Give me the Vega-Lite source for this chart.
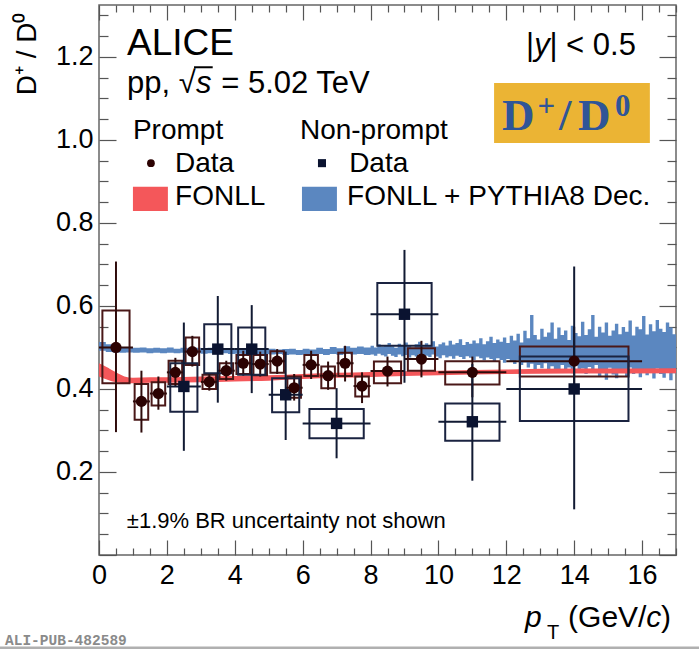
{
  "$schema": "https://vega.github.io/schema/vega-lite/v6.json",
  "width": 577,
  "height": 550,
  "autosize": {"type": "none"},
  "padding": {"left": 99, "top": 5, "right": 23, "bottom": 94},
  "background": "white",
  "config": {
    "view": {"stroke": "#666", "strokeWidth": 1.5},
    "text": {"font": "Liberation Sans", "color": "#000"}
  },
  "resolve": {"axis": {"x": "independent", "y": "independent"}},
  "layer": [
    {
      "data": {"values": [
        {"x":0.0,"lo":0.492,"hi":0.513},{"x":0.2,"lo":0.489,"hi":0.508},{"x":0.4,"lo":0.488,"hi":0.503},{"x":0.6,"lo":0.487,"hi":0.501},{"x":0.8,"lo":0.488,"hi":0.500},
        {"x":1.0,"lo":0.487,"hi":0.499},{"x":1.2,"lo":0.488,"hi":0.500},{"x":1.4,"lo":0.486,"hi":0.498},{"x":1.6,"lo":0.487,"hi":0.499},{"x":1.8,"lo":0.486,"hi":0.498},
        {"x":2.0,"lo":0.487,"hi":0.500},{"x":2.2,"lo":0.486,"hi":0.497},{"x":2.4,"lo":0.487,"hi":0.499},{"x":2.6,"lo":0.485,"hi":0.498},{"x":2.8,"lo":0.486,"hi":0.499},
        {"x":3.0,"lo":0.485,"hi":0.497},{"x":3.2,"lo":0.486,"hi":0.499},{"x":3.4,"lo":0.485,"hi":0.498},{"x":3.6,"lo":0.486,"hi":0.497},{"x":3.8,"lo":0.484,"hi":0.498},
        {"x":4.0,"lo":0.485,"hi":0.497},{"x":4.2,"lo":0.484,"hi":0.498},{"x":4.4,"lo":0.485,"hi":0.496},{"x":4.6,"lo":0.483,"hi":0.497},{"x":4.8,"lo":0.484,"hi":0.496},
        {"x":5.0,"lo":0.483,"hi":0.497},{"x":5.2,"lo":0.484,"hi":0.495},{"x":5.4,"lo":0.482,"hi":0.496},{"x":5.6,"lo":0.483,"hi":0.497},{"x":5.8,"lo":0.482,"hi":0.494},
        {"x":6.0,"lo":0.483,"hi":0.497},{"x":6.2,"lo":0.481,"hi":0.495},{"x":6.4,"lo":0.484,"hi":0.499},{"x":6.6,"lo":0.482,"hi":0.496},{"x":6.8,"lo":0.484,"hi":0.501},
        {"x":7.0,"lo":0.482,"hi":0.498},{"x":7.2,"lo":0.485,"hi":0.503},{"x":7.4,"lo":0.483,"hi":0.499},{"x":7.6,"lo":0.484,"hi":0.502},{"x":7.8,"lo":0.482,"hi":0.500},
        {"x":8.0,"lo":0.483,"hi":0.504},{"x":8.1,"lo":0.480,"hi":0.500},{"x":8.2,"lo":0.485,"hi":0.508},{"x":8.3,"lo":0.481,"hi":0.502},{"x":8.4,"lo":0.478,"hi":0.506},
        {"x":8.5,"lo":0.484,"hi":0.511},{"x":8.6,"lo":0.480,"hi":0.503},{"x":8.7,"lo":0.477,"hi":0.499},{"x":8.8,"lo":0.483,"hi":0.509},{"x":8.9,"lo":0.479,"hi":0.505},
        {"x":9.0,"lo":0.482,"hi":0.512},{"x":9.1,"lo":0.476,"hi":0.504},{"x":9.2,"lo":0.481,"hi":0.500},{"x":9.3,"lo":0.478,"hi":0.508},{"x":9.4,"lo":0.484,"hi":0.514},
        {"x":9.5,"lo":0.475,"hi":0.503},{"x":9.6,"lo":0.480,"hi":0.510},{"x":9.7,"lo":0.477,"hi":0.506},{"x":9.8,"lo":0.483,"hi":0.515},{"x":9.9,"lo":0.478,"hi":0.502},
        {"x":10.0,"lo":0.474,"hi":0.508},{"x":10.1,"lo":0.481,"hi":0.512},{"x":10.2,"lo":0.476,"hi":0.505},{"x":10.3,"lo":0.479,"hi":0.516},{"x":10.4,"lo":0.473,"hi":0.507},
        {"x":10.5,"lo":0.480,"hi":0.511},{"x":10.6,"lo":0.477,"hi":0.520},{"x":10.7,"lo":0.472,"hi":0.506},{"x":10.8,"lo":0.479,"hi":0.513},{"x":10.9,"lo":0.475,"hi":0.509},
        {"x":11.0,"lo":0.470,"hi":0.517},{"x":11.1,"lo":0.478,"hi":0.510},{"x":11.2,"lo":0.474,"hi":0.522},{"x":11.3,"lo":0.469,"hi":0.508},{"x":11.4,"lo":0.476,"hi":0.515},
        {"x":11.5,"lo":0.472,"hi":0.526},{"x":11.6,"lo":0.466,"hi":0.511},{"x":11.7,"lo":0.474,"hi":0.519},{"x":11.8,"lo":0.470,"hi":0.514},{"x":11.9,"lo":0.463,"hi":0.524},
        {"x":12.0,"lo":0.472,"hi":0.511},{"x":12.1,"lo":0.466,"hi":0.528},{"x":12.2,"lo":0.460,"hi":0.517},{"x":12.3,"lo":0.469,"hi":0.533},{"x":12.4,"lo":0.458,"hi":0.512},
        {"x":12.5,"lo":0.464,"hi":0.540},{"x":12.6,"lo":0.452,"hi":0.522},{"x":12.7,"lo":0.461,"hi":0.578},{"x":12.8,"lo":0.446,"hi":0.530},{"x":12.9,"lo":0.458,"hi":0.519},
        {"x":13.0,"lo":0.450,"hi":0.545},{"x":13.1,"lo":0.462,"hi":0.526},{"x":13.2,"lo":0.444,"hi":0.536},{"x":13.3,"lo":0.455,"hi":0.560},{"x":13.4,"lo":0.448,"hi":0.521},
        {"x":13.5,"lo":0.440,"hi":0.548},{"x":13.6,"lo":0.458,"hi":0.530},{"x":13.7,"lo":0.446,"hi":0.541},{"x":13.8,"lo":0.452,"hi":0.518},{"x":13.9,"lo":0.438,"hi":0.552},
        {"x":14.0,"lo":0.456,"hi":0.535},{"x":14.1,"lo":0.444,"hi":0.527},{"x":14.2,"lo":0.449,"hi":0.562},{"x":14.3,"lo":0.436,"hi":0.530},{"x":14.4,"lo":0.453,"hi":0.544},
        {"x":14.5,"lo":0.441,"hi":0.578},{"x":14.6,"lo":0.458,"hi":0.526},{"x":14.7,"lo":0.430,"hi":0.550},{"x":14.8,"lo":0.447,"hi":0.536},{"x":14.9,"lo":0.422,"hi":0.560},
        {"x":15.0,"lo":0.451,"hi":0.528},{"x":15.1,"lo":0.435,"hi":0.541},{"x":15.2,"lo":0.426,"hi":0.557},{"x":15.3,"lo":0.448,"hi":0.532},{"x":15.4,"lo":0.440,"hi":0.549},
        {"x":15.5,"lo":0.430,"hi":0.538},{"x":15.6,"lo":0.452,"hi":0.565},{"x":15.7,"lo":0.436,"hi":0.529},{"x":15.8,"lo":0.445,"hi":0.550},{"x":15.9,"lo":0.428,"hi":0.544},
        {"x":16.0,"lo":0.446,"hi":0.576},{"x":16.1,"lo":0.433,"hi":0.531},{"x":16.2,"lo":0.441,"hi":0.556},{"x":16.3,"lo":0.425,"hi":0.539},{"x":16.4,"lo":0.449,"hi":0.566},
        {"x":16.5,"lo":0.436,"hi":0.545},{"x":16.6,"lo":0.427,"hi":0.537},{"x":16.7,"lo":0.444,"hi":0.560},{"x":16.8,"lo":0.421,"hi":0.548},{"x":16.9,"lo":0.438,"hi":0.532},
        {"x":17.0,"lo":0.438,"hi":0.532}
      ]},
      "mark": {"type": "area", "interpolate": "step-after", "color": "#5b87c0", "clip": true},
      "encoding": {
        "x": {"field": "x", "type": "quantitative", "scale": {"domain": [0, 17], "nice": false, "zero": false},
          "axis": {"orient": "bottom", "values": [0,0.5,1,1.5,2,2.5,3,3.5,4,4.5,5,5.5,6,6.5,7,7.5,8,8.5,9,9.5,10,10.5,11,11.5,12,12.5,13,13.5,14,14.5,15,15.5,16,16.5,17],
            "domain": false, "grid": false, "tickColor": "#555", "tickWidth": 1.2,
            "tickSize": {"condition": {"test": "round(datum.value*2) % 4 == 0", "value": -15}, "value": -7},
            "labelExpr": "round(datum.value*2) % 4 == 0 && datum.value < 16.5 ? format(datum.value, 'd') : ''",
            "labelFont": "Liberation Sans", "labelFontSize": 27, "labelColor": "#000", "labelPadding": 22,
            "labelFlush": false, "labelOverlap": false, "title": null}},
        "y": {"field": "lo", "type": "quantitative", "scale": {"domain": [0, 1.325], "nice": false, "zero": false},
          "axis": {"orient": "left", "values": [0,0.05,0.1,0.15,0.2,0.25,0.3,0.35,0.4,0.45,0.5,0.55,0.6,0.65,0.7,0.75,0.8,0.85,0.9,0.95,1.0,1.05,1.1,1.15,1.2,1.25,1.3],
            "domain": false, "grid": false, "tickColor": "#555", "tickWidth": 1.2,
            "tickSize": {"condition": {"test": "round(datum.value*20) % 4 == 0", "value": -17}, "value": -9},
            "labelExpr": "round(datum.value*20) % 4 == 0 && datum.value > 0.01 ? format(datum.value, '.1f') : ''",
            "labelFont": "Liberation Sans", "labelFontSize": 27, "labelColor": "#000", "labelPadding": 23,
            "labelFlush": false, "labelOverlap": false,
            "title": "D⁺ / D⁰", "titleFont": "Liberation Sans", "titleFontSize": 28, "titleFontWeight": "normal", "titleColor": "#000",
            "titleAngle": 270, "titleAlign": "right", "titleBaseline": "middle", "titleX": -72, "titleY": 7}},
        "y2": {"field": "hi"}
      }
    },
    {
      "data": {"values": [
        {"x":0,"lo":0.430,"hi":0.462},{"x":0.25,"lo":0.422,"hi":0.452},{"x":0.5,"lo":0.416,"hi":0.440},{"x":0.75,"lo":0.414,"hi":0.430},
        {"x":1,"lo":0.414,"hi":0.427},{"x":1.5,"lo":0.415,"hi":0.428},{"x":2,"lo":0.415,"hi":0.428},{"x":3,"lo":0.416,"hi":0.430},
        {"x":4,"lo":0.418,"hi":0.431},{"x":5,"lo":0.420,"hi":0.433},{"x":6,"lo":0.424,"hi":0.436},{"x":7,"lo":0.427,"hi":0.439},
        {"x":8,"lo":0.429,"hi":0.441},{"x":10,"lo":0.433,"hi":0.444},{"x":12,"lo":0.436,"hi":0.447},{"x":14,"lo":0.437,"hi":0.449},
        {"x":17,"lo":0.438,"hi":0.450}
      ]},
      "mark": {"type": "area", "interpolate": "monotone", "color": "#f4575a", "clip": true},
      "encoding": {
        "x": {"field": "x", "type": "quantitative", "scale": {"domain": [0, 17], "nice": false, "zero": false},
          "axis": {"orient": "top", "values": [0,0.5,1,1.5,2,2.5,3,3.5,4,4.5,5,5.5,6,6.5,7,7.5,8,8.5,9,9.5,10,10.5,11,11.5,12,12.5,13,13.5,14,14.5,15,15.5,16,16.5,17],
            "domain": false, "grid": false, "labels": false, "tickColor": "#555", "tickWidth": 1.2,
            "tickSize": {"condition": {"test": "round(datum.value*2) % 4 == 0", "value": -15}, "value": -7}, "title": null}},
        "y": {"field": "lo", "type": "quantitative", "scale": {"domain": [0, 1.325], "nice": false, "zero": false},
          "axis": {"orient": "right", "values": [0,0.05,0.1,0.15,0.2,0.25,0.3,0.35,0.4,0.45,0.5,0.55,0.6,0.65,0.7,0.75,0.8,0.85,0.9,0.95,1.0,1.05,1.1,1.15,1.2,1.25,1.3],
            "domain": false, "grid": false, "labels": false, "tickColor": "#555", "tickWidth": 1.2,
            "tickSize": {"condition": {"test": "round(datum.value*20) % 4 == 0", "value": -17}, "value": -9}, "title": null}},
        "y2": {"field": "hi"}
      }
    },
    {
      "data": {"name": "prompt", "values": [
        {"x":0.5,"xlo":0,"xhi":1,"bx1":0.1,"bx2":0.9,"y":0.500,"ylo":0.296,"yhi":0.707,"sylo":0.414,"syhi":0.589},
        {"x":1.25,"xlo":1,"xhi":1.5,"bx1":1.05,"bx2":1.45,"y":0.370,"ylo":0.295,"yhi":0.444,"sylo":0.326,"syhi":0.412},
        {"x":1.75,"xlo":1.5,"xhi":2,"bx1":1.55,"bx2":1.95,"y":0.389,"ylo":0.350,"yhi":0.430,"sylo":0.360,"syhi":0.416},
        {"x":2.25,"xlo":2,"xhi":2.5,"bx1":2.05,"bx2":2.45,"y":0.440,"ylo":0.405,"yhi":0.475,"sylo":0.412,"syhi":0.468},
        {"x":2.75,"xlo":2.5,"xhi":3,"bx1":2.55,"bx2":2.95,"y":0.490,"ylo":0.454,"yhi":0.528,"sylo":0.458,"syhi":0.524},
        {"x":3.25,"xlo":3,"xhi":3.5,"bx1":3.05,"bx2":3.45,"y":0.417,"ylo":0.396,"yhi":0.438,"sylo":0.400,"syhi":0.434},
        {"x":3.75,"xlo":3.5,"xhi":4,"bx1":3.55,"bx2":3.95,"y":0.444,"ylo":0.420,"yhi":0.468,"sylo":0.424,"syhi":0.462},
        {"x":4.25,"xlo":4,"xhi":4.5,"bx1":4.05,"bx2":4.45,"y":0.462,"ylo":0.432,"yhi":0.492,"sylo":0.436,"syhi":0.482},
        {"x":4.75,"xlo":4.5,"xhi":5,"bx1":4.55,"bx2":4.95,"y":0.460,"ylo":0.430,"yhi":0.490,"sylo":0.433,"syhi":0.482},
        {"x":5.25,"xlo":5,"xhi":5.5,"bx1":5.05,"bx2":5.45,"y":0.467,"ylo":0.436,"yhi":0.496,"sylo":0.439,"syhi":0.491},
        {"x":5.75,"xlo":5.5,"xhi":6,"bx1":5.55,"bx2":5.95,"y":0.403,"ylo":0.372,"yhi":0.436,"sylo":0.379,"syhi":0.430},
        {"x":6.25,"xlo":6,"xhi":6.5,"bx1":6.05,"bx2":6.45,"y":0.458,"ylo":0.424,"yhi":0.492,"sylo":0.431,"syhi":0.482},
        {"x":6.75,"xlo":6.5,"xhi":7,"bx1":6.55,"bx2":6.95,"y":0.432,"ylo":0.398,"yhi":0.466,"sylo":0.402,"syhi":0.454},
        {"x":7.25,"xlo":7,"xhi":7.5,"bx1":7.05,"bx2":7.45,"y":0.462,"ylo":0.418,"yhi":0.504,"sylo":0.431,"syhi":0.487},
        {"x":7.75,"xlo":7.5,"xhi":8,"bx1":7.55,"bx2":7.95,"y":0.407,"ylo":0.366,"yhi":0.440,"sylo":0.382,"syhi":0.430},
        {"x":8.5,"xlo":8,"xhi":9,"bx1":8.1,"bx2":8.9,"y":0.443,"ylo":0.406,"yhi":0.478,"sylo":0.414,"syhi":0.466},
        {"x":9.5,"xlo":9,"xhi":10,"bx1":9.1,"bx2":9.9,"y":0.472,"ylo":0.428,"yhi":0.516,"sylo":0.444,"syhi":0.498},
        {"x":11,"xlo":10,"xhi":12,"bx1":10.2,"bx2":11.8,"y":0.440,"ylo":0.380,"yhi":0.478,"sylo":0.411,"syhi":0.467},
        {"x":14,"xlo":12,"xhi":16,"bx1":12.4,"bx2":15.6,"y":0.467,"ylo":0.390,"yhi":0.550,"sylo":0.430,"syhi":0.502}
      ]},
      "layer": [
        {"mark": {"type": "rect", "fill": null, "fillOpacity": 0, "stroke": "#4a1818", "strokeWidth": 2},
         "encoding": {"x": {"field": "bx1", "type": "quantitative", "scale": {"domain": [0, 17]}, "axis": null}, "x2": {"field": "bx2"},
           "y": {"field": "sylo", "type": "quantitative", "scale": {"domain": [0, 1.325]}, "axis": null}, "y2": {"field": "syhi"}}},
        {"mark": {"type": "rule", "color": "#2e0b0b", "strokeWidth": 2},
         "encoding": {"x": {"field": "x", "type": "quantitative", "scale": {"domain": [0, 17]}, "axis": null},
           "y": {"field": "ylo", "type": "quantitative", "scale": {"domain": [0, 1.325]}, "axis": null}, "y2": {"field": "yhi"}}},
        {"mark": {"type": "rule", "color": "#2e0b0b", "strokeWidth": 2},
         "encoding": {"x": {"field": "xlo", "type": "quantitative", "scale": {"domain": [0, 17]}, "axis": null}, "x2": {"field": "xhi"},
           "y": {"field": "y", "type": "quantitative", "scale": {"domain": [0, 1.325]}, "axis": null}}}
      ]
    },
    {
      "data": {"name": "nonprompt", "values": [
        {"x":2.5,"xlo":2,"xhi":3,"bx1":2.1,"bx2":2.9,"y":0.406,"ylo":0.251,"yhi":0.560,"sylo":0.345,"syhi":0.462},
        {"x":3.5,"xlo":3,"xhi":4,"bx1":3.1,"bx2":3.9,"y":0.496,"ylo":0.367,"yhi":0.624,"sylo":0.438,"syhi":0.556},
        {"x":4.5,"xlo":4,"xhi":5,"bx1":4.1,"bx2":4.9,"y":0.496,"ylo":0.390,"yhi":0.602,"sylo":0.434,"syhi":0.548},
        {"x":5.5,"xlo":5,"xhi":6,"bx1":5.1,"bx2":5.9,"y":0.386,"ylo":0.277,"yhi":0.490,"sylo":0.344,"syhi":0.426},
        {"x":7,"xlo":6,"xhi":8,"bx1":6.2,"bx2":7.8,"y":0.317,"ylo":0.233,"yhi":0.402,"sylo":0.281,"syhi":0.352},
        {"x":9,"xlo":8,"xhi":10,"bx1":8.2,"bx2":9.8,"y":0.580,"ylo":0.415,"yhi":0.735,"sylo":0.504,"syhi":0.655},
        {"x":11,"xlo":10,"xhi":12,"bx1":10.2,"bx2":11.8,"y":0.321,"ylo":0.179,"yhi":0.460,"sylo":0.275,"syhi":0.365},
        {"x":14,"xlo":12,"xhi":16,"bx1":12.4,"bx2":15.6,"y":0.400,"ylo":0.110,"yhi":0.695,"sylo":0.323,"syhi":0.478}
      ]},
      "layer": [
        {"mark": {"type": "rect", "fill": null, "fillOpacity": 0, "stroke": "#1a2340", "strokeWidth": 2},
         "encoding": {"x": {"field": "bx1", "type": "quantitative", "scale": {"domain": [0, 17]}, "axis": null}, "x2": {"field": "bx2"},
           "y": {"field": "sylo", "type": "quantitative", "scale": {"domain": [0, 1.325]}, "axis": null}, "y2": {"field": "syhi"}}},
        {"mark": {"type": "rule", "color": "#111a33", "strokeWidth": 2},
         "encoding": {"x": {"field": "x", "type": "quantitative", "scale": {"domain": [0, 17]}, "axis": null},
           "y": {"field": "ylo", "type": "quantitative", "scale": {"domain": [0, 1.325]}, "axis": null}, "y2": {"field": "yhi"}}},
        {"mark": {"type": "rule", "color": "#111a33", "strokeWidth": 2},
         "encoding": {"x": {"field": "xlo", "type": "quantitative", "scale": {"domain": [0, 17]}, "axis": null}, "x2": {"field": "xhi"},
           "y": {"field": "y", "type": "quantitative", "scale": {"domain": [0, 1.325]}, "axis": null}}},
        {"mark": {"type": "point", "shape": "square", "filled": true, "size": 130, "color": "#0a1330", "opacity": 1},
         "encoding": {"x": {"field": "x", "type": "quantitative", "scale": {"domain": [0, 17]}, "axis": null},
           "y": {"field": "y", "type": "quantitative", "scale": {"domain": [0, 1.325]}, "axis": null}}}
      ]
    },
    {
      "data": {"name": "prompt"},
      "mark": {"type": "point", "shape": "circle", "filled": true, "size": 125, "color": "#2c0202", "opacity": 1},
      "encoding": {"x": {"field": "x", "type": "quantitative", "scale": {"domain": [0, 17]}, "axis": null},
        "y": {"field": "y", "type": "quantitative", "scale": {"domain": [0, 1.325]}, "axis": null}}
    },
    {
      "data": {"values": [{"x1": 1.0, "x2": 2.03, "y1": 0.829, "y2": 0.887}]},
      "mark": {"type": "rect", "color": "#f4575a"},
      "encoding": {"x": {"field": "x1", "type": "quantitative", "scale": {"domain": [0, 17]}, "axis": null}, "x2": {"field": "x2"},
        "y": {"field": "y1", "type": "quantitative", "scale": {"domain": [0, 1.325]}, "axis": null}, "y2": {"field": "y2"}}
    },
    {
      "data": {"values": [{"x1": 5.98, "x2": 7.01, "y1": 0.829, "y2": 0.887}]},
      "mark": {"type": "rect", "color": "#5b87c0"},
      "encoding": {"x": {"field": "x1", "type": "quantitative", "scale": {"domain": [0, 17]}, "axis": null}, "x2": {"field": "x2"},
        "y": {"field": "y1", "type": "quantitative", "scale": {"domain": [0, 1.325]}, "axis": null}, "y2": {"field": "y2"}}
    },
    {
      "data": {"values": [{"x": 1.53, "y": 0.944}]},
      "mark": {"type": "point", "shape": "circle", "filled": true, "size": 60, "color": "#2c0202", "opacity": 1},
      "encoding": {"x": {"field": "x", "type": "quantitative", "scale": {"domain": [0, 17]}, "axis": null},
        "y": {"field": "y", "type": "quantitative", "scale": {"domain": [0, 1.325]}, "axis": null}}
    },
    {
      "data": {"values": [{"x": 6.57, "y": 0.944}]},
      "mark": {"type": "point", "shape": "square", "filled": true, "size": 65, "color": "#0a1330", "opacity": 1},
      "encoding": {"x": {"field": "x", "type": "quantitative", "scale": {"domain": [0, 17]}, "axis": null},
        "y": {"field": "y", "type": "quantitative", "scale": {"domain": [0, 1.325]}, "axis": null}}
    },
    {
      "data": {"values": [{"x1": 11.64, "x2": 16.23, "y1": 0.9925, "y2": 1.137}]},
      "mark": {"type": "rect", "color": "#ebb434"},
      "encoding": {"x": {"field": "x1", "type": "quantitative", "scale": {"domain": [0, 17]}, "axis": null}, "x2": {"field": "x2"},
        "y": {"field": "y1", "type": "quantitative", "scale": {"domain": [0, 1.325]}, "axis": null}, "y2": {"field": "y2"}}
    },
    {
      "data": {"values": [
        {"x": 11.87, "y": 1.024, "t": "D"},
        {"x": 13.55, "y": 1.024, "t": "/"},
        {"x": 14.11, "y": 1.024, "t": "D"}
      ]},
      "mark": {"type": "text", "font": "Liberation Serif", "fontWeight": "bold", "fontSize": 45, "color": "#2f5597", "align": "left", "baseline": "alphabetic"},
      "encoding": {"x": {"field": "x", "type": "quantitative", "scale": {"domain": [0, 17]}, "axis": null},
        "y": {"field": "y", "type": "quantitative", "scale": {"domain": [0, 1.325]}, "axis": null}, "text": {"field": "t"}}
    },
    {
      "data": {"values": [
        {"x": 12.92, "y": 1.058, "t": "+"},
        {"x": 15.2, "y": 1.058, "t": "0"}
      ]},
      "mark": {"type": "text", "font": "Liberation Serif", "fontWeight": "bold", "fontSize": 31, "color": "#2f5597", "align": "left", "baseline": "alphabetic"},
      "encoding": {"x": {"field": "x", "type": "quantitative", "scale": {"domain": [0, 17]}, "axis": null},
        "y": {"field": "y", "type": "quantitative", "scale": {"domain": [0, 1.325]}, "axis": null}, "text": {"field": "t"}}
    },
    {
      "data": {"values": [{"x": 0.825, "y": 1.2045, "t": "ALICE"}]},
      "mark": {"type": "text", "fontSize": 37, "align": "left", "baseline": "alphabetic"},
      "encoding": {"x": {"field": "x", "type": "quantitative", "scale": {"domain": [0, 17]}, "axis": null},
        "y": {"field": "y", "type": "quantitative", "scale": {"domain": [0, 1.325]}, "axis": null}, "text": {"field": "t"}}
    },
    {
      "data": {"values": [
        {"x": 0.825, "y": 1.113, "t": "pp, √"},
        {"x": 3.6, "y": 1.113, "t": "= 5.02 TeV"},
        {"x": 12.58, "y": 1.2045, "t": "|"},
        {"x": 13.27, "y": 1.2045, "t": "| < 0.5"}
      ]},
      "mark": {"type": "text", "fontSize": 31, "align": "left", "baseline": "alphabetic"},
      "encoding": {"x": {"field": "x", "type": "quantitative", "scale": {"domain": [0, 17]}, "axis": null},
        "y": {"field": "y", "type": "quantitative", "scale": {"domain": [0, 1.325]}, "axis": null}, "text": {"field": "t"}}
    },
    {
      "data": {"values": [
        {"x": 2.86, "y": 1.113, "t": "s"},
        {"x": 12.82, "y": 1.2045, "t": "y"}
      ]},
      "mark": {"type": "text", "fontSize": 31, "fontStyle": "italic", "align": "left", "baseline": "alphabetic"},
      "encoding": {"x": {"field": "x", "type": "quantitative", "scale": {"domain": [0, 17]}, "axis": null},
        "y": {"field": "y", "type": "quantitative", "scale": {"domain": [0, 1.325]}, "axis": null}, "text": {"field": "t"}}
    },
    {
      "data": {"values": [{"x1": 2.8, "x2": 3.35, "y": 1.175}]},
      "mark": {"type": "rule", "color": "#000", "strokeWidth": 2},
      "encoding": {"x": {"field": "x1", "type": "quantitative", "scale": {"domain": [0, 17]}, "axis": null}, "x2": {"field": "x2"},
        "y": {"field": "y", "type": "quantitative", "scale": {"domain": [0, 1.325]}, "axis": null}}
    },
    {
      "data": {"values": [
        {"x": 1.0, "y": 1.002, "t": "Prompt"},
        {"x": 5.92, "y": 1.002, "t": "Non-prompt"},
        {"x": 2.24, "y": 0.923, "t": "Data"},
        {"x": 7.37, "y": 0.923, "t": "Data"},
        {"x": 2.24, "y": 0.843, "t": "FONLL"},
        {"x": 7.31, "y": 0.843, "t": "FONLL + PYTHIA8 Dec."}
      ]},
      "mark": {"type": "text", "fontSize": 28, "align": "left", "baseline": "alphabetic"},
      "encoding": {"x": {"field": "x", "type": "quantitative", "scale": {"domain": [0, 17]}, "axis": null},
        "y": {"field": "y", "type": "quantitative", "scale": {"domain": [0, 1.325]}, "axis": null}, "text": {"field": "t"}}
    },
    {
      "data": {"values": [{"x": 0.82, "y": 0.065, "t": "±1.9% BR uncertainty not shown"}]},
      "mark": {"type": "text", "fontSize": 22, "align": "left", "baseline": "alphabetic"},
      "encoding": {"x": {"field": "x", "type": "quantitative", "scale": {"domain": [0, 17]}, "axis": null},
        "y": {"field": "y", "type": "quantitative", "scale": {"domain": [0, 1.325]}, "axis": null}, "text": {"field": "t"}}
    },
    {
      "data": {"values": [
        {"x": 12.55, "y": -0.1735, "t": "p"},
        {"x": 16.12, "y": -0.1735, "t": "c"}
      ]},
      "mark": {"type": "text", "fontSize": 30, "fontStyle": "italic", "align": "left", "baseline": "alphabetic"},
      "encoding": {"x": {"field": "x", "type": "quantitative", "scale": {"domain": [0, 17]}, "axis": null},
        "y": {"field": "y", "type": "quantitative", "scale": {"domain": [0, 1.325]}, "axis": null}, "text": {"field": "t"}}
    },
    {
      "data": {"values": [
        {"x": 13.82, "y": -0.1735, "t": "(GeV/"},
        {"x": 16.56, "y": -0.1735, "t": ")"}
      ]},
      "mark": {"type": "text", "fontSize": 30, "align": "left", "baseline": "alphabetic"},
      "encoding": {"x": {"field": "x", "type": "quantitative", "scale": {"domain": [0, 17]}, "axis": null},
        "y": {"field": "y", "type": "quantitative", "scale": {"domain": [0, 1.325]}, "axis": null}, "text": {"field": "t"}}
    },
    {
      "data": {"values": [{"x": 13.2, "y": -0.203, "t": "T"}]},
      "mark": {"type": "text", "fontSize": 20, "align": "left", "baseline": "alphabetic"},
      "encoding": {"x": {"field": "x", "type": "quantitative", "scale": {"domain": [0, 17]}, "axis": null},
        "y": {"field": "y", "type": "quantitative", "scale": {"domain": [0, 1.325]}, "axis": null}, "text": {"field": "t"}}
    },
    {
      "data": {"values": [{"x": -2.77, "y": -0.217, "t": "ALI-PUB-482589"}]},
      "mark": {"type": "text", "font": "Liberation Mono", "fontWeight": "bold", "fontSize": 14.5, "color": "#8a8a8a", "align": "left", "baseline": "alphabetic"},
      "encoding": {"x": {"field": "x", "type": "quantitative", "scale": {"domain": [0, 17]}, "axis": null},
        "y": {"field": "y", "type": "quantitative", "scale": {"domain": [0, 1.325]}, "axis": null}, "text": {"field": "t"}}
    },
    {
      "data": {"values": [{"x1": -2.92, "x2": 17.68, "y": -0.224}]},
      "mark": {"type": "rule", "color": "#b0b0b0", "strokeWidth": 3},
      "encoding": {"x": {"field": "x1", "type": "quantitative", "scale": {"domain": [0, 17]}, "axis": null}, "x2": {"field": "x2"},
        "y": {"field": "y", "type": "quantitative", "scale": {"domain": [0, 1.325]}, "axis": null}}
    }
  ]
}
